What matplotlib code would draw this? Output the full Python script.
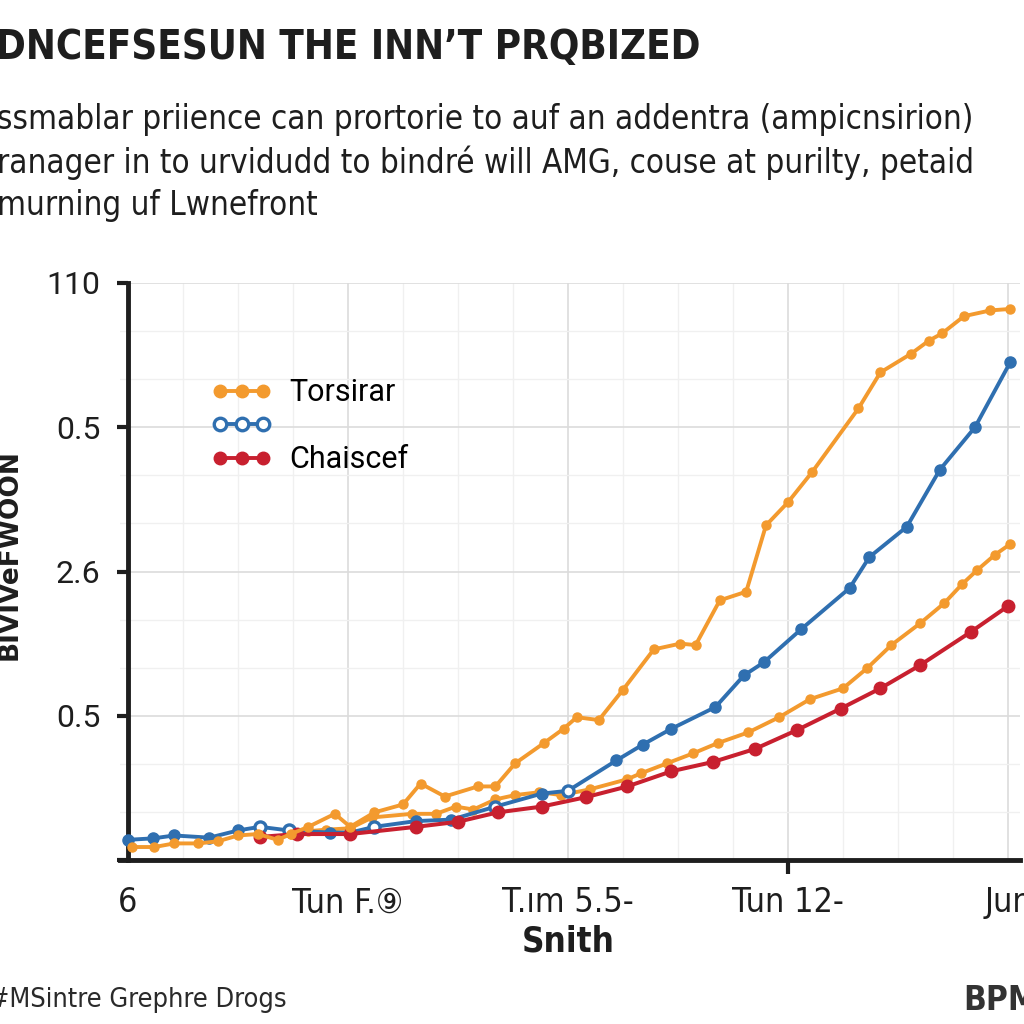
import matplotlib
matplotlib.use("Agg")
from matplotlib import pyplot as plt
from matplotlib.ticker import MultipleLocator
from matplotlib.lines import Line2D

# values (x in "weeks", y in axis units)
x_ticks = [0, 1, 2, 3, 4]
x_labels = ["6", "Tun F.\u2468", "T.\u0131m 5.5-", "Tun 12-", "Jun"]
y_ticks = [0, 1, 2, 3, 4]
y_labels = ["", "0.5", "2.6", "0.5", "110"]

tors_x = [0.02, 0.12, 0.21, 0.32, 0.41, 0.50, 0.59, 0.68, 0.74, 0.82, 0.94, 1.01, 1.12, 1.25,
          1.33, 1.44, 1.59, 1.67, 1.76, 1.89, 1.98, 2.04, 2.14, 2.25, 2.39, 2.51, 2.58, 2.69,
          2.81, 2.90, 3.00, 3.11, 3.32, 3.42, 3.56, 3.64, 3.70, 3.80, 3.92, 4.01]
tors_y = [0.09, 0.09, 0.115, 0.115, 0.13, 0.17, 0.18, 0.14, 0.18, 0.23, 0.32, 0.23, 0.33, 0.385,
          0.53, 0.44, 0.51, 0.51, 0.67, 0.81, 0.91, 0.99, 0.97, 1.18, 1.46, 1.50, 1.49, 1.80,
          1.86, 2.32, 2.48, 2.69, 3.13, 3.38, 3.51, 3.60, 3.65, 3.77, 3.81, 3.82]

orange2_x = [0.74, 0.82, 0.90, 1.01, 1.11, 1.29, 1.40, 1.49, 1.57, 1.67, 1.76, 1.87, 1.97, 2.10,
             2.27, 2.33, 2.45, 2.57, 2.68, 2.82, 2.96, 3.10, 3.25, 3.36, 3.47, 3.60, 3.71, 3.79,
             3.86, 3.94, 4.01]
orange2_y = [0.18, 0.20, 0.21, 0.22, 0.295, 0.32, 0.32, 0.37, 0.35, 0.42, 0.45, 0.47, 0.45, 0.49,
             0.56, 0.60, 0.67, 0.74, 0.81, 0.885, 0.99, 1.115, 1.19, 1.33, 1.49, 1.64, 1.78, 1.91,
             2.01, 2.115, 2.19]

blue_x = [0.0, 0.115, 0.21, 0.37, 0.50, 0.60, 0.73, 0.92, 1.01, 1.12, 1.31, 1.47, 1.67, 1.88,
          2.0, 2.22, 2.34, 2.47, 2.67, 2.80, 2.89, 3.06, 3.28, 3.37, 3.54, 3.69, 3.85, 4.01]
blue_y = [0.14, 0.15, 0.17, 0.155, 0.205, 0.23, 0.205, 0.19, 0.19, 0.23, 0.27, 0.28, 0.37, 0.46,
          0.48, 0.69, 0.80, 0.91, 1.06, 1.28, 1.37, 1.60, 1.885, 2.10, 2.31, 2.705, 3.0, 3.45]
blue_hollow = [False, False, False, False, False, True, True, False, False, True, False, False,
               True, False, True, False, False, False, False, False, False, False, False, False,
               False, False, False, False]

chais_x = [0.60, 0.77, 1.01, 1.31, 1.50, 1.68, 1.88, 2.08, 2.27, 2.47, 2.66, 2.85, 3.04, 3.24,
           3.42, 3.60, 3.83, 4.0]
chais_y = [0.16, 0.18, 0.18, 0.23, 0.265, 0.33, 0.37, 0.435, 0.51, 0.615, 0.68, 0.77, 0.90, 1.05,
           1.19, 1.35, 1.58, 1.76]

ORANGE = "#f39a2e"
BLUE = "#2f6fb0"
RED = "#c8202f"
INK = "#1e1e1e"

COND = dict(family=["DejaVu Sans", "Noto Sans CJK SC"], stretch="condensed")


def fit_width(txt, target_px):
    # shrink/grow the font so the text spans about target_px
    r = fig.canvas.get_renderer()
    w = txt.get_window_extent(r).width
    txt.set_fontsize(txt.get_fontsize() * target_px / w)


fig = plt.figure(figsize=(10.24, 10.24), dpi=100)
fig.patch.set_facecolor("white")
ax = fig.add_axes([120 / 1024, 1 - 860 / 1024, 900 / 1024, 577 / 1024])

ax.plot(orange2_x, orange2_y, color=ORANGE, lw=2.8, marker="o", ms=6.5, zorder=3)
ax.plot(blue_x, blue_y, color=BLUE, lw=2.8, marker="o", ms=8, zorder=4)
hx = [x for x, h in zip(blue_x, blue_hollow) if h]
hy = [y for y, h in zip(blue_y, blue_hollow) if h]
ax.plot(hx, hy, ls="none", marker="o", ms=8, mfc="white", mec=BLUE, mew=2.4, zorder=5)
ax.plot(chais_x, chais_y, color=RED, lw=2.9, marker="o", ms=9, zorder=5)
ax.plot(tors_x, tors_y, color=ORANGE, lw=2.8, marker="o", ms=6.5, zorder=6)

ax.set_xlim(-8 / 220, 892 / 220)
ax.set_ylim(0, 4)
ax.spines["left"].set_position(("data", 0))
for s in ["top", "right"]:
    ax.spines[s].set_visible(False)
for s in ["left", "bottom"]:
    ax.spines[s].set_color(INK)
    ax.spines[s].set_linewidth(3.5)

ax.set_xticks(x_ticks)
ax.set_xticklabels(x_labels, fontsize=24.5, color=INK, **COND)
ax.set_yticks(y_ticks)
ax.set_yticklabels(y_labels, family=["Roboto", "DejaVu Sans"], fontsize=23, color=INK)
ax.xaxis.set_minor_locator(MultipleLocator(0.25))
ax.yaxis.set_minor_locator(MultipleLocator(1 / 3))
ax.tick_params(axis="y", which="major", length=8, width=3, color=INK, pad=12)
ax.tick_params(axis="x", which="major", length=10, width=3, color=INK, pad=9)
ax.tick_params(which="minor", length=0)
for i, t in enumerate(ax.xaxis.get_major_ticks()):
    if i != 3:
        t.tick1line.set_visible(False)

ax.grid(which="major", color="#dcdcdc", lw=1.2)
ax.grid(which="minor", color="#f0f0f0", lw=1.0)
ax.set_axisbelow(True)

handles = [
    Line2D([], [], color=ORANGE, lw=2.8, marker="o", ms=9),
    Line2D([], [], color=BLUE, lw=2.8, marker="o", ms=9, mfc="white", mec=BLUE, mew=2.4),
    Line2D([], [], color=RED, lw=2.8, marker="o", ms=9),
]
fig.legend(handles, ["Torsirar", "", "Chaiscef"], loc="upper left",
           bbox_to_anchor=(196 / 1024, 1 - 363 / 1024), frameon=False, numpoints=3,
           handlelength=2.0, handletextpad=0.55, labelspacing=0.15, borderpad=0,
           prop={"family": ["Roboto", "DejaVu Sans"], "size": 22})

title = fig.text(-0.004, 1 - 48 / 1024, "DNCEFSESUN THE INN\u2019T PRQBIZED",
                 fontsize=40, weight="bold", color=INK, va="center", ha="left", **COND)
fit_width(title, 706)

sub = ["ssmablar priience can prortorie to auf an addentra (ampicnsirion)",
       "ranager in to urvidudd to bindr\u00e9 will AMG, couse at purilty, petaid",
       "murning uf Lwnefront"]
sub_txt = []
for i, line in enumerate(sub):
    sub_txt.append(fig.text(-0.003, 1 - (120 + 43 * i) / 1024, line, fontsize=25,
                            color=INK, va="center", ha="left", **COND))
fit_width(sub_txt[0], 978)
for t in sub_txt[1:]:
    t.set_fontsize(sub_txt[0].get_fontsize())

fig.text(10 / 1024, 1 - 555 / 1024, "BIVIVeFWOON", rotation=90, family="DejaVu Sans",
         fontsize=19, weight="bold", color=INK, va="center", ha="center")
fig.text(568 / 1024, 1 - 942 / 1024, "Snith", fontsize=25, weight="bold",
         color=INK, va="center", ha="center", **COND)
foot = fig.text(-0.011, 1 - 1000 / 1024, "#MSintre Grephre Drogs", fontsize=21,
                color="#2a2a2a", va="center", ha="left", **COND)
fit_width(foot, 298)
fig.text(963 / 1024, 1 - 1000 / 1024, "BPM", fontsize=24, weight="bold",
         color="#333333", va="center", ha="left", **COND)

fig.savefig("out.png", dpi=100, facecolor="white")
